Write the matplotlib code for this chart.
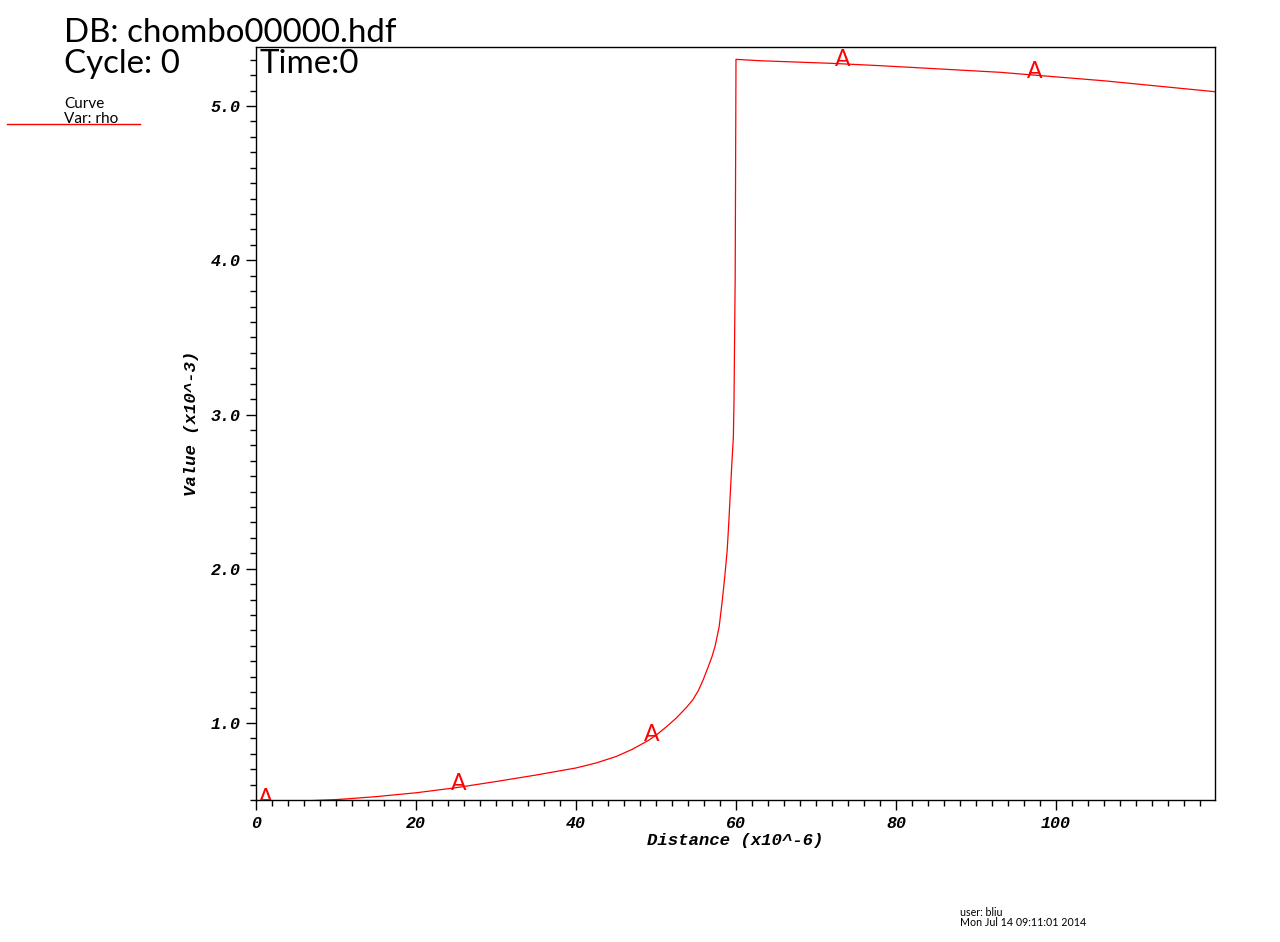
import numpy as np
import matplotlib
matplotlib.use("Agg")
import matplotlib.pyplot as plt
from matplotlib.ticker import MultipleLocator, FormatStrFormatter

# curve: rho along the line
dist = [0, 5, 10, 12, 15, 20, 25, 30, 35, 40, 42.5, 45, 47, 49, 50, 51.3,
        52.5, 53.8, 54.6, 55.3, 55.9, 56.5, 57.0, 57.4, 57.9, 58.3, 58.6,
        58.9, 59.1, 59.25, 59.5, 59.67, 59.75, 59.9, 59.96, 60.0, 63, 72, 78,
        93, 106, 119.9]
rho = [0.485, 0.492, 0.503, 0.51, 0.522, 0.547, 0.580, 0.620, 0.662, 0.708,
       0.740, 0.782, 0.828, 0.885, 0.92, 0.975, 1.03, 1.10, 1.15, 1.21,
       1.28, 1.36, 1.43, 1.50, 1.625, 1.80, 1.95, 2.12, 2.30, 2.45, 2.70,
       2.85, 3.08, 3.89, 4.74, 5.303, 5.294, 5.277, 5.262, 5.219, 5.164,
       5.093]

# curve label "A" positions
label_x = [1.25, 25.3, 49.4, 73.4, 97.4]

title_db = "DB: chombo00000.hdf"
title_cycle = "Cycle: 0"
title_time = "Time:0"
legend_lines = ["Curve", "Var: rho"]
user_info = ["user: bliu", "Mon Jul 14 09:11:01 2014"]

red = "#ff0000"
sans = ["Lato", "DejaVu Sans"]
mono = "Liberation Mono"

fig = plt.figure(figsize=(12.8, 9.42), dpi=100)
ax = fig.add_axes([0.2, 0.1507, 0.7492, 0.7994])

ax.plot(dist, rho, color=red, lw=0.9)
label_y = np.interp(label_x, dist, rho)
for lx, ly in zip(label_x, label_y):
    ax.annotate("A", (lx, ly), xytext=(0, 4), textcoords="offset pixels",
                ha="center", va="center", color=red, fontsize=16.5,
                family=sans, annotation_clip=False, clip_on=True)

ax.set_xlim(0, 119.875)
ax.set_ylim(0.5, 5.383)

ax.xaxis.set_major_locator(MultipleLocator(20))
ax.xaxis.set_minor_locator(MultipleLocator(2))
ax.yaxis.set_major_locator(MultipleLocator(1.0))
ax.yaxis.set_minor_locator(MultipleLocator(0.1))
ax.xaxis.set_major_formatter(FormatStrFormatter("%d"))
ax.yaxis.set_major_formatter(FormatStrFormatter("%.1f"))

ax.tick_params(which="both", direction="out", top=False, right=False, width=1)
ax.tick_params(which="major", length=7.2, pad=4)
ax.tick_params(which="minor", length=4.0)
for lab in ax.get_xticklabels() + ax.get_yticklabels():
    lab.set_fontfamily(mono)
    lab.set_fontweight("bold")
    lab.set_fontstyle("italic")
    lab.set_fontsize(12)

ax.set_xlabel("Distance (x10^-6)", family=mono, weight="bold", style="italic",
              fontsize=12.5, labelpad=2)
ax.set_ylabel("Value (x10^-3)", family=mono, weight="bold", style="italic",
              fontsize=12.5, labelpad=8)
for s in ax.spines.values():
    s.set_linewidth(1)

# header text
fig.text(64 / 1280, 1 - 33 / 942, title_db, family=sans, fontsize=23.8, va="center")
fig.text(64 / 1280, 1 - 64 / 942, title_cycle, family=sans, fontsize=23.8, va="center")
fig.text(259 / 1280, 1 - 64 / 942, title_time, family=sans, fontsize=23.8, va="center")

# legend
fig.text(64 / 1280, 1 - 104 / 942, legend_lines[0], family=sans, fontsize=11, va="center")
fig.text(64 / 1280, 1 - 119 / 942, legend_lines[1], family=sans, fontsize=11, va="center")
fig.add_artist(plt.Line2D([7 / 1280, 140 / 1280], [1 - 124 / 942, 1 - 124 / 942],
                          color=red, lw=1))

# user info
fig.text(960 / 1280, 1 - 912 / 942, user_info[0], family=sans, fontsize=7.7, va="center")
fig.text(960 / 1280, 1 - 923 / 942, user_info[1], family=sans, fontsize=7.7, va="center")

fig.savefig("out.png", dpi=100)
